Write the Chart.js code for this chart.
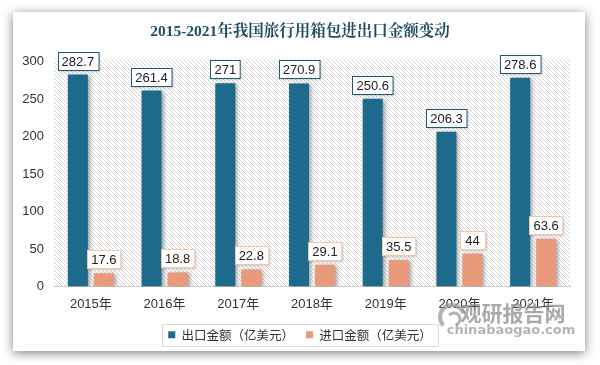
<!DOCTYPE html>
<html>
<head>
<meta charset="utf-8">
<script src="https://cdn.jsdelivr.net/npm/chart.js@4.4.0/dist/chart.umd.min.js"></script>
<style>
  html, body { margin: 0; padding: 0; background: #fff; }
  body { width: 600px; height: 365px; position: relative; overflow: hidden; }
  #card {
    position: absolute; left: 13px; top: 12px; width: 572px; height: 339px;
    background: #fff; box-shadow: 0 2px 10px rgba(0, 0, 0, 0.5);
  }
  #chart { position: absolute; left: 0; top: 0; }
</style>
</head>
<body>
<div id="card"></div>
<canvas id="chart" width="600" height="365"></canvas>
<script>
/* ---------------------------------
   DATA
--------------------------------- */
const years = ["2015年", "2016年", "2017年", "2018年", "2019年", "2020年", "2021年"];
const exportValues = [282.7, 261.4, 271, 270.9, 250.6, 206.3, 278.6];
const importValues = [17.6, 18.8, 22.8, 29.1, 35.5, 44, 63.6];
const yTicks = [0, 50, 100, 150, 200, 250, 300];

const FONT = "'Liberation Sans', 'Noto Sans CJK SC', sans-serif";
const LEGEND_FONT = "'Noto Sans CJK TC', 'Noto Sans CJK SC', sans-serif";
const EXPORT_COLOR = "#1d6a8c";
const IMPORT_COLOR = "#e99a7b";

/* ---------------------------------
   PLUGINS
--------------------------------- */
function makeHatch() {
  const c = document.createElement("canvas");
  c.width = 4;
  c.height = 4;
  const g = c.getContext("2d");
  g.fillStyle = "#fff";
  g.fillRect(0, 0, 4, 4);
  g.fillStyle = "#d6d6d6";
  for (let i = 0; i < 4; i++) g.fillRect(i, i, 1, 1);
  return c;
}

const hatchPlugin = {
  id: "hatch",
  beforeDatasetsDraw(chart) {
    const { ctx, chartArea: a } = chart;
    ctx.save();
    ctx.fillStyle = ctx.createPattern(makeHatch(), "repeat");
    ctx.fillRect(a.left, a.top - 3, a.right - a.left, a.bottom - a.top + 3);
    ctx.restore();
  }
};

const shadowPlugin = {
  id: "barShadow",
  beforeDatasetsDraw(chart) {
    const ctx = chart.ctx;
    ctx.save();
    ctx.shadowColor = "rgba(0,0,0,0.35)";
    ctx.shadowBlur = 4;
    ctx.shadowOffsetX = 2;
    ctx.shadowOffsetY = 1;
  },
  afterDatasetsDraw(chart) {
    chart.ctx.restore();
  }
};

const labelPlugin = {
  id: "boxLabels",
  afterDatasetsDraw(chart) {
    const ctx = chart.ctx;
    ctx.save();
    ctx.font = "13px " + FONT;
    ctx.textAlign = "center";
    ctx.textBaseline = "middle";
    chart.data.datasets.forEach((ds, i) => {
      const meta = chart.getDatasetMeta(i);
      meta.data.forEach((bar, j) => {
        const txt = String(ds.data[j]);
        const w = Math.max(ctx.measureText(txt).width + 8, 25);
        const h = 18;
        const x = Math.round(bar.x - w / 2) + 0.5;
        const y = Math.round(bar.y - 5 - h) + 0.5;
        ctx.shadowColor = "rgba(0,0,0,0.2)";
        ctx.shadowBlur = 2;
        ctx.shadowOffsetX = 1;
        ctx.shadowOffsetY = 1;
        ctx.fillStyle = "#fff";
        ctx.fillRect(x, y, w, h);
        ctx.shadowColor = "transparent";
        ctx.strokeStyle = i === 0 ? "#1f5a72" : "#f0c6a6";
        ctx.lineWidth = 1;
        ctx.strokeRect(x, y, w, h);
        ctx.fillStyle = "#222";
        ctx.fillText(txt, bar.x, y + h / 2 + 0.5);
      });
    });
    ctx.restore();
  }
};

const extrasPlugin = {
  id: "extras",
  afterDraw(chart) {
    const ctx = chart.ctx;
    ctx.save();
    // legend frame
    const boxes = chart.legend.legendHitBoxes;
    if (boxes && boxes.length) {
      const first = boxes[0];
      const last = boxes[boxes.length - 1];
      const left = Math.round(first.left - 6) + 0.5;
      const right = Math.round(last.left + last.width + 6) + 0.5;
      const top = Math.round(first.top - 5) + 0.5;
      const bottom = Math.round(first.top + first.height + 5) + 0.5;
      ctx.strokeStyle = "#d9d9d9";
      ctx.lineWidth = 1;
      ctx.strokeRect(left, top, right - left, bottom - top);
    }
    // watermark
    ctx.globalAlpha = 0.75;
    ctx.strokeStyle = "#9a9a9a";
    ctx.lineWidth = 4;
    ctx.beginPath();
    ctx.arc(452, 317, 12, Math.PI * 0.75, Math.PI * 1.9);
    ctx.stroke();
    ctx.lineWidth = 3;
    ctx.beginPath();
    ctx.arc(454, 319, 6, Math.PI * 1.2, Math.PI * 2.4);
    ctx.stroke();
    ctx.fillStyle = "#8c8c8c";
    ctx.textAlign = "center";
    ctx.textBaseline = "middle";
    ctx.font = "bold 21px 'Noto Sans CJK SC', sans-serif";
    ctx.fillText("观研报告网", 513, 313);
    ctx.font = "bold 13px 'DejaVu Sans', sans-serif";
    ctx.fillStyle = "#999";
    ctx.fillText("chinabaogao.com", 511, 331);
    ctx.restore();
  }
};

/* ---------------------------------
   CHART
--------------------------------- */
const ctx = document.getElementById("chart").getContext("2d");
new Chart(ctx, {
  type: "bar",
  data: {
    labels: years,
    datasets: [
      {
        label: "出口金额（亿美元）",
        data: exportValues,
        backgroundColor: EXPORT_COLOR,
        borderWidth: 0
      },
      {
        label: "进口金额（亿美元）",
        data: importValues,
        backgroundColor: IMPORT_COLOR,
        borderWidth: 0
      }
    ]
  },
  options: {
    responsive: false,
    animation: false,
    categoryPercentage: 0.705,
    barPercentage: 0.77,
    layout: { padding: { left: 0, right: 0, top: 0, bottom: 14 } },
    plugins: {
      tooltip: { enabled: false },
      title: {
        display: true,
        text: "2015-2021年我国旅行用箱包进出口金额变动",
        color: "#1f4d66",
        font: { family: "'Liberation Serif', 'Noto Serif CJK SC', 'Noto Sans CJK SC', serif", size: 15.5, weight: "bold" },
        padding: { top: 23, bottom: 20 }
      },
      legend: {
        position: "bottom",
        labels: {
          boxWidth: 7,
          boxHeight: 7,
          padding: 12,
          color: "#333",
          font: { family: LEGEND_FONT, size: 12.5 }
        }
      }
    },
    scales: {
      x: {
        grid: { display: false, drawTicks: false },
        border: { display: true, color: "#a6a6a6" },
        ticks: { color: "#333", font: { family: FONT, size: 13 }, padding: 10 },
        afterFit(scale) { scale.height = 30; }
      },
      y: {
        min: 0,
        max: 300,
        afterBuildTicks(scale) { scale.ticks = yTicks.map((v) => ({ value: v })); },
        grid: { display: false, drawTicks: false },
        border: { display: false },
        ticks: { color: "#333", font: { family: FONT, size: 13 }, padding: 10 },
        afterFit(scale) { scale.width = 54; }
      },
      spacer: {
        position: "right",
        display: true,
        grid: { display: false, drawTicks: false },
        border: { display: false },
        ticks: { display: false },
        afterFit(scale) { scale.width = 30; }
      }
    }
  },
  plugins: [hatchPlugin, shadowPlugin, labelPlugin, extrasPlugin]
});
</script>
</body>
</html>
